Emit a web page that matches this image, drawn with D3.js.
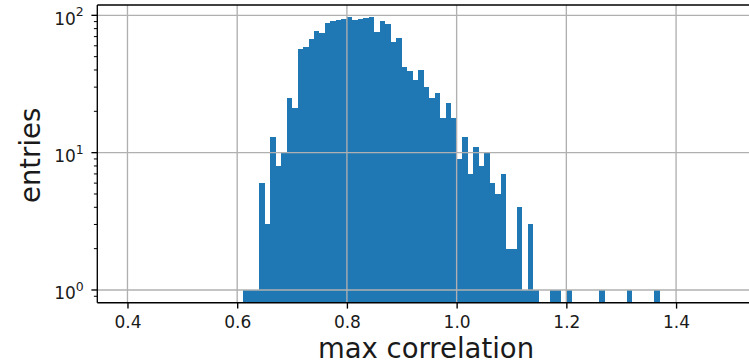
<!DOCTYPE html>
<html>
<head>
<meta charset="utf-8">
<script src="https://cdn.jsdelivr.net/npm/d3@7"></script>
<style>
  html, body { margin: 0; padding: 0; background: #fff; }
  svg { display: block; font-family: "DejaVu Sans", sans-serif; }
</style>
</head>
<body>
<svg id="chart" width="749" height="364"></svg>
<script>
// Histogram of max correlation, bins of width 0.01 (only non-empty bins listed)
const binWidth = 0.01;
const binStarts = [
  0.61, 0.62, 0.63, 0.64, 0.65, 0.66, 0.67, 0.68, 0.69, 0.70,
  0.71, 0.72, 0.73, 0.74, 0.75, 0.76, 0.77, 0.78, 0.79, 0.80,
  0.81, 0.82, 0.83, 0.84, 0.85, 0.86, 0.87, 0.88, 0.89, 0.90,
  0.91, 0.92, 0.93, 0.94, 0.95, 0.96, 0.97, 0.98, 0.99, 1.00,
  1.01, 1.02, 1.03, 1.04, 1.05, 1.06, 1.07, 1.08, 1.09, 1.10,
  1.11, 1.12, 1.13, 1.14, 1.17, 1.18, 1.20, 1.26, 1.31, 1.36
];
const counts = [
  1, 1, 1, 6, 3, 13, 8, 10, 25, 21,
  57, 59, 67, 77, 74, 88, 91, 92, 94, 97,
  93, 94, 96, 97, 75, 91, 86, 64, 68, 42,
  39, 34, 40, 30, 25, 27, 18, 23, 18, 9,
  13, 7, 11, 8, 10, 6, 5, 7, 2, 2,
  4, 1, 3, 1, 1, 1, 1, 1, 1, 1
];
const xTicks = [0.4, 0.6, 0.8, 1.0, 1.2, 1.4];
const yMajorExps = [0, 1, 2];
const xDomain = [0.345, 1.555];
const yDomain = [0.808, 118.9];

const svg = d3.select("#chart");
const plotLeft = 97.3, plotTop = 5, plotBottom = 302.7;
const plotRight = plotLeft + (xDomain[1] - xDomain[0]) * 548.6;
const lw = 1.35, tickFont = 17, labelFont = 27.5;

const x = d3.scaleLinear().domain(xDomain).range([plotLeft, plotRight]);
const y = d3.scaleLog().domain(yDomain).range([plotBottom, plotTop]);

svg.append("defs").append("clipPath").attr("id", "plot")
  .append("rect").attr("x", plotLeft).attr("y", plotTop)
  .attr("width", plotRight - plotLeft).attr("height", plotBottom - plotTop);

const bins = binStarts.map((s, i) => ({ x0: s, x1: s + binWidth, n: counts[i] }));

// bars
svg.append("g").attr("clip-path", "url(#plot)")
  .selectAll("rect").data(bins).join("rect")
  .attr("x", d => x(d.x0))
  .attr("width", d => x(d.x1) - x(d.x0))
  .attr("y", d => y(d.n))
  .attr("height", d => plotBottom - y(d.n))
  .attr("fill", "#1f77b4")
  .attr("shape-rendering", "crispEdges");

// grid (drawn above the bars)
const grid = svg.append("g").attr("clip-path", "url(#plot)")
  .attr("stroke", "#b0b0b0").attr("stroke-width", lw);
grid.selectAll("line.gx").data(xTicks).join("line").attr("class", "gx")
  .attr("x1", d => x(d)).attr("x2", d => x(d))
  .attr("y1", plotTop).attr("y2", plotBottom);
grid.selectAll("line.gy").data(yMajorExps).join("line").attr("class", "gy")
  .attr("x1", plotLeft).attr("x2", plotRight)
  .attr("y1", d => y(Math.pow(10, d))).attr("y2", d => y(Math.pow(10, d)));

// x axis
const xAxis = d3.axisBottom(x).tickValues(xTicks)
  .tickFormat(d3.format(".1f")).tickSizeInner(5.9).tickSizeOuter(0).tickPadding(7.6);
const gx = svg.append("g").attr("transform", `translate(0,${plotBottom})`).call(xAxis);
gx.select(".domain").remove();
gx.selectAll("line").attr("stroke", "#000").attr("stroke-width", lw);
gx.selectAll("text").attr("font-size", tickFont).attr("fill", "#1a1a1a")
  .attr("font-family", "DejaVu Sans");

// y axis: minor ticks
const minor = [];
[0.1, 1, 10, 100].forEach(base => {
  for (let k = 2; k <= 9; k++) {
    const v = base * k;
    if (v > yDomain[0] && v < yDomain[1]) minor.push(v);
  }
});
svg.append("g").selectAll("line").data(minor).join("line")
  .attr("x1", plotLeft - 3.4).attr("x2", plotLeft)
  .attr("y1", d => y(d)).attr("y2", d => y(d))
  .attr("stroke", "#000").attr("stroke-width", 1.0);

// y axis: major ticks with powers of ten
const gy = svg.append("g");
gy.selectAll("line").data(yMajorExps).join("line")
  .attr("x1", plotLeft - 5.9).attr("x2", plotLeft)
  .attr("y1", d => y(Math.pow(10, d))).attr("y2", d => y(Math.pow(10, d)))
  .attr("stroke", "#000").attr("stroke-width", lw);
const ylab = gy.selectAll("text").data(yMajorExps).join("text")
  .attr("x", plotLeft - 13.5)
  .attr("y", d => y(Math.pow(10, d)) + 9.5)
  .attr("text-anchor", "end")
  .attr("font-size", tickFont).attr("fill", "#1a1a1a");
ylab.append("tspan").text("10");
ylab.append("tspan").attr("dy", -8.5).attr("font-size", 12.5).text(d => d);

// spines
const spine = (x1, y1, x2, y2) => svg.append("line")
  .attr("x1", x1).attr("y1", y1).attr("x2", x2).attr("y2", y2)
  .attr("stroke", "#000").attr("stroke-width", lw);
spine(plotLeft, plotTop, plotLeft, plotBottom);
spine(plotLeft, plotBottom, plotRight, plotBottom);
spine(plotLeft, plotTop, plotRight, plotTop);
spine(plotRight, plotTop, plotRight, plotBottom);

// axis titles
svg.append("text")
  .attr("x", 426).attr("y", 357.5)
  .attr("text-anchor", "middle").attr("font-size", labelFont).attr("fill", "#1a1a1a")
  .text("max correlation");
svg.append("text")
  .attr("transform", `translate(40,${(plotTop + plotBottom) / 2 + 1.5}) rotate(-90)`)
  .attr("text-anchor", "middle").attr("font-size", labelFont).attr("fill", "#1a1a1a")
  .text("entries");
</script>
</body>
</html>
